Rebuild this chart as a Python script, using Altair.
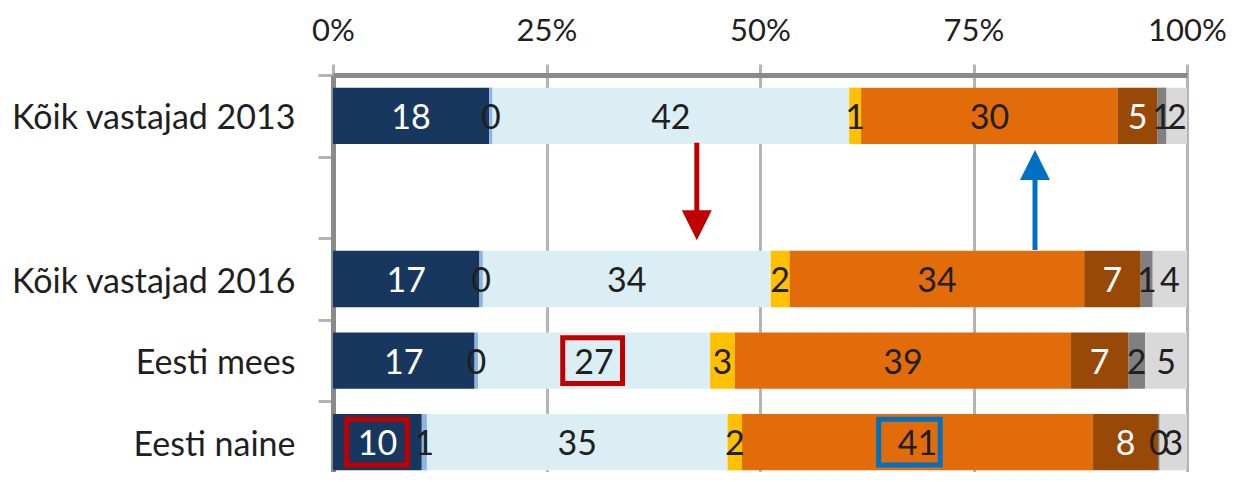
import altair as alt
import pandas as pd

# ---- data ----
rows = ["Kõik vastajad 2013", " ", "Kõik vastajad 2016", "Eesti mees", "Eesti naine"]
segments = ["Vastus 1", "Vastus 2", "Vastus 3", "Vastus 4",
            "Vastus 5", "Vastus 6", "Vastus 7", "Ei oska öelda"]
seg_colors = ["#17375E", "#8EB4E3", "#DAEEF3", "#FFC000",
              "#E36C0A", "#984807", "#808080", "#D9D9D9"]
white_text_segments = ["Vastus 1", "Vastus 6"]

v_2013 = [18.3, 0.4, 41.8, 1.4, 30.1, 4.6, 1.1, 2.4]
v_2016 = [17.1, 0.4, 33.6, 2.2, 34.4, 6.6, 1.4, 4.0]
v_mees = [16.6, 0.4, 27.2, 2.9, 39.4, 6.7, 2.0, 4.9]
v_naine = [10.4, 0.6, 35.2, 1.7, 41.1, 7.6, 0.2, 3.2]

x_ticks = [0, 0.25, 0.5, 0.75, 1]

# highlight boxes (share of bar, 0..1)
box_rows = ["Eesti mees", "Eesti naine", "Eesti naine"]
box_x0 = [0.269, 0.016, 0.639]
box_x1 = [0.339, 0.087, 0.711]
box_colors = ["#C00000", "#C00000", "#0070C0"]

# arrows (x share)
arrow_down_x = [0.426]
arrow_up_x = [0.822]

# ---- build table ----
recs = []
for r, vals in zip(["Kõik vastajad 2013", "Kõik vastajad 2016", "Eesti mees", "Eesti naine"],
                   [v_2013, v_2016, v_mees, v_naine]):
    for i, (s, v) in enumerate(zip(segments, vals)):
        recs.append({"row": r, "seg": s, "order": i, "value": v})
df = pd.DataFrame(recs)

FONT = "Lato"
TXT = "#1F1F1F"
GRID = "#B4B4B4"
DOMAIN = "#8A8A8A"

yscale = alt.Scale(domain=rows, range=[0, 408], paddingInner=0, paddingOuter=0)
xscale = alt.Scale(domain=[0, 1], nice=False, zero=True)

x_axis = alt.Axis(
    orient="top", values=x_ticks, format=".0%", title=None,
    labelFont=FONT, labelFontSize=31, labelColor=TXT, labelFlush=False,
    labelPadding=24, labelBaseline="alphabetic",
    domain=True, domainColor=DOMAIN, domainWidth=5,
    ticks=True, tickSize=11, tickWidth=3, tickColor=GRID,
    grid=True, gridColor=GRID, gridWidth=3)
y_axis = alt.Axis(
    orient="left", title=None, labelFont=FONT, labelFontSize=34,
    labelColor=TXT, labelPadding=23, labelLimit=500, labelOffset=3,
    domain=True, domainColor=DOMAIN, domainWidth=5,
    ticks=True, tickSize=15, tickWidth=3, tickColor=GRID, tickBand="extent",
    grid=False)

base = alt.Chart(df).transform_stack(
    stack="value", groupby=["row"], as_=["v0", "v1"],
    sort=[alt.SortField("order", order="ascending")], offset="normalize"
).transform_calculate(
    mid="(datum.v0 + datum.v1) / 2",
    label="format(datum.value, '.0f')",
    tcolor="indexof(" + str(white_text_segments) + ", datum.seg) >= 0 ? 'white' : '" + TXT + "'",
)

bars = base.mark_bar(height={"band": 0.69}).encode(
    x=alt.X("v0:Q", scale=xscale, axis=x_axis),
    x2="v1",
    y=alt.Y("row:N", scale=yscale, sort=rows, axis=y_axis),
    color=alt.Color("seg:N", scale=alt.Scale(domain=segments, range=seg_colors), legend=None),
    order=alt.Order("order:Q"),
)

labels = base.mark_text(font=FONT, fontSize=34, dy=3).encode(
    x=alt.X("mid:Q", scale=xscale, axis=x_axis),
    y=alt.Y("row:N", scale=yscale, sort=rows, axis=y_axis),
    text="label:N",
    color=alt.Color("tcolor:N", scale=None),
)

box_df = pd.DataFrame({"row": box_rows, "bx0": box_x0, "bx1": box_x1, "bcolor": box_colors})
boxes = alt.Chart(box_df).mark_bar(filled=False, strokeWidth=5, height={"band": 0.56}).encode(
    x=alt.X("bx0:Q", scale=xscale, axis=x_axis),
    x2="bx1",
    y=alt.Y("row:N", scale=yscale, sort=rows, axis=y_axis),
    stroke=alt.Color("bcolor:N", scale=None),
)

down_df = pd.DataFrame({"x": arrow_down_x, "r0": ["Kõik vastajad 2013"], "r1": [" "]})
up_df = pd.DataFrame({"x": arrow_up_x, "r0": ["Kõik vastajad 2016"], "r1": [" "]})

down_shaft = alt.Chart(down_df).mark_rule(color="#C00000", strokeWidth=5).encode(
    x=alt.X("x:Q", scale=xscale, axis=x_axis),
    y=alt.Y("r0:N", scale=yscale, sort=rows, axis=y_axis, bandPosition=0.83),
    y2=alt.Y2("r1", bandPosition=0.80),
)
down_head = alt.Chart(down_df).mark_point(
    shape="M-1,-1L1,-1L0,1Z", filled=True, size=900, opacity=1, color="#C00000"
).encode(
    x=alt.X("x:Q", scale=xscale, axis=x_axis),
    y=alt.Y("r1:N", scale=yscale, sort=rows, axis=y_axis, bandPosition=0.84),
)
up_shaft = alt.Chart(up_df).mark_rule(color="#0070C0", strokeWidth=5).encode(
    x=alt.X("x:Q", scale=xscale, axis=x_axis),
    y=alt.Y("r0:N", scale=yscale, sort=rows, axis=y_axis, bandPosition=0.145),
    y2=alt.Y2("r1", bandPosition=0.14),
)
up_head = alt.Chart(up_df).mark_point(
    shape="M-1,1L1,1L0,-1Z", filled=True, size=900, opacity=1, color="#0070C0"
).encode(
    x=alt.X("x:Q", scale=xscale, axis=x_axis),
    y=alt.Y("r1:N", scale=yscale, sort=rows, axis=y_axis, bandPosition=0.103),
)

chart = alt.layer(bars, labels, boxes, down_shaft, down_head, up_shaft, up_head).properties(
    width=854, height=397,
    autosize=alt.AutoSizeParams(type="none"),
    padding={"left": 325, "top": 67, "right": 39, "bottom": 0},
).configure_view(stroke=None).configure(background="white")

chart.save("out.html", embed_options={"renderer": "svg", "actions": False})
